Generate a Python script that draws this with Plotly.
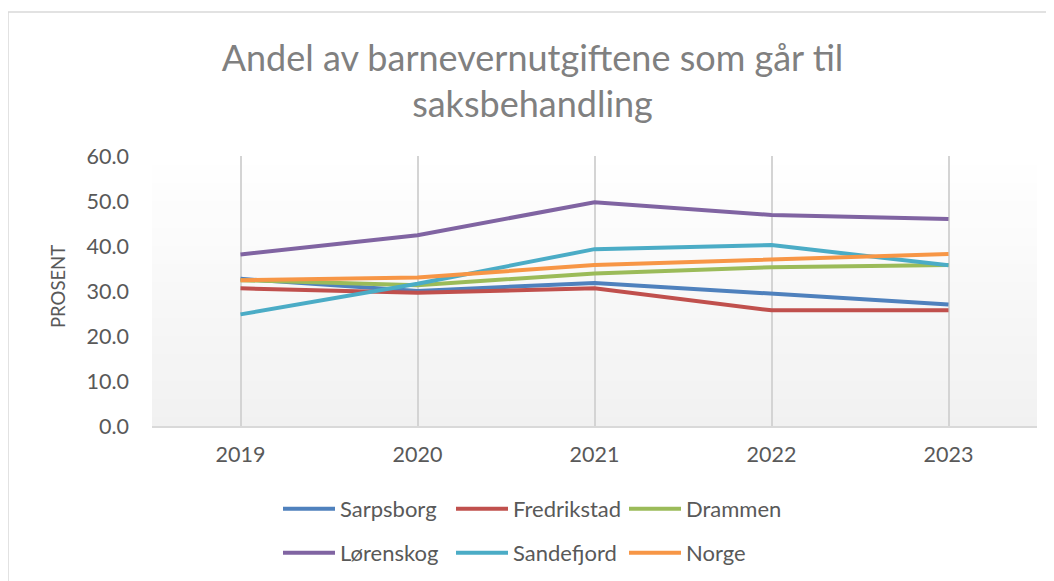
import plotly.graph_objects as go

years = ["2019", "2020", "2021", "2022", "2023"]
sarpsborg = [32.7, 30.0, 31.8, 29.3, 27.0]
fredrikstad = [30.6, 29.6, 30.6, 25.7, 25.7]
drammen = [32.4, 31.3, 33.9, 35.3, 35.8]
lorenskog = [38.1, 42.4, 49.7, 46.9, 46.0]
sandefjord = [24.8, 31.6, 39.3, 40.2, 35.7]
norge = [32.4, 33.0, 35.8, 36.9, 38.2]

series = [
    ("Sarpsborg", sarpsborg, "#4F81BD", "legend"),
    ("Fredrikstad", fredrikstad, "#C0504D", "legend"),
    ("Drammen", drammen, "#9BBB59", "legend"),
    ("Lørenskog", lorenskog, "#8064A2", "legend2"),
    ("Sandefjord", sandefjord, "#4BACC6", "legend2"),
    ("Norge", norge, "#F79646", "legend2"),
]

FONT = "Lato"
TXT = "#595959"

# page offset of the figure (body margin) -> figure coordinates
OFF = 8
L, R, T, B = 152 - OFF, 1054 - (1037 - OFF), 156 - OFF, 581 - (426 - OFF)
PW, PH = 1054 - L - R, 581 - T - B

fig = go.Figure()
for name, vals, col, leg in series:
    fig.add_trace(go.Scatter(
        x=years, y=vals, name=name, mode="lines",
        line=dict(color=col, width=4), legend=leg,
    ))

# plot-area vertical gradient (white -> light gray)
n = 30
for i in range(n):
    t = (i + 0.5) / n
    g = int(round(255 - (255 - 241) * t))
    fig.add_shape(type="rect", xref="x domain", yref="y domain",
                  x0=0, x1=1, y0=1 - (i + 1) / n, y1=1 - i / n,
                  fillcolor=f"rgb({g},{g},{g})", line=dict(width=0), layer="below")

# chart border
fig.add_shape(type="rect", xref="paper", yref="paper",
              x0=(8 - OFF - L) / PW, x1=(1080 - L) / PW,
              y0=-(B + 40) / PH, y1=1 + (T - (12 - OFF)) / PH,
              line=dict(color="#D9D9D9", width=1.5), fillcolor="rgba(0,0,0,0)", layer="below")

# y-axis title
fig.add_annotation(text="PROSENT", textangle=-90, showarrow=False,
                   xref="paper", yref="paper",
                   x=(58 - OFF - L) / PW, y=(426 - 287) / PH,
                   xanchor="center", yanchor="middle",
                   font=dict(family=FONT, size=18.5, color=TXT))

leg_common = dict(orientation="h", xanchor="left", yanchor="middle",
                  font=dict(family=FONT, size=22, color=TXT),
                  itemwidth=52, entrywidth=106, entrywidthmode="pixels",
                  bgcolor="rgba(0,0,0,0)", tracegroupgap=0, itemclick=False)

LEGX = (278 - OFF - L) / PW

fig.update_layout(
    width=1054, height=581,
    margin=dict(l=L, r=R, t=T, b=B),
    paper_bgcolor="white", plot_bgcolor="white",
    title=dict(text="Andel av barnevernutgiftene som går til<br>saksbehandling",
               x=(532.5 - OFF) / 1054, xref="container", xanchor="center",
               y=1 - 62.5 / 581, yanchor="middle",
               font=dict(family=FONT, size=36, color="#808080")),
    font=dict(family=FONT, color=TXT),
    xaxis=dict(type="category", range=[-0.5, 4.5], showgrid=True, gridcolor="#D4D4D4",
               gridwidth=2, showline=True, linecolor="#D9D9D9", linewidth=2,
               ticks="", tickfont=dict(family=FONT, size=21.5, color=TXT), zeroline=False,
               ticklabelstandoff=8),
    yaxis=dict(range=[0, 60], dtick=10, tickformat=".1f", showgrid=False, zeroline=False,
               showline=False, ticks="", tickfont=dict(family=FONT, size=21.5, color=TXT),
               ticklabelstandoff=22),
    legend=dict(x=LEGX, y=(426 - 509) / PH, **leg_common),
    legend2=dict(x=LEGX, y=(426 - 553) / PH, **leg_common),
    showlegend=True,
)

fig.write_html("out.html")
